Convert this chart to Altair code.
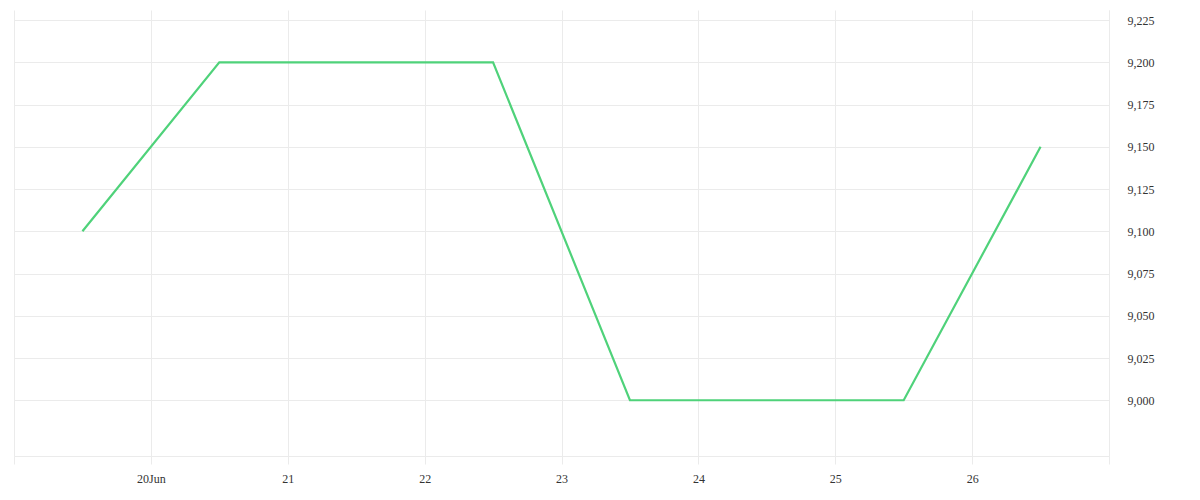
import altair as alt
import pandas as pd

dates = ["2023-06-19T12:00:00Z", "2023-06-20T12:00:00Z", "2023-06-21T12:00:00Z",
         "2023-06-22T12:00:00Z", "2023-06-23T12:00:00Z", "2023-06-24T12:00:00Z",
         "2023-06-25T12:00:00Z", "2023-06-26T12:00:00Z"]
values = [9100, 9200, 9200, 9200, 9000, 9000, 9000, 9150]
y_ticks = [9000, 9025, 9050, 9075, 9100, 9125, 9150, 9175, 9200, 9225]
x_tick_days = [19, 20, 21, 22, 23, 24, 25, 26, 27]

df = pd.DataFrame({"date": dates, "value": values})

grid = "#ebebeb"
font = "Liberation Serif"

x_vals = [alt.DateTime(year=2023, month=6, date=d, utc=True) for d in x_tick_days]

chart = alt.Chart(df).mark_line(color="#4fd27a", strokeWidth=2.2).encode(
    x=alt.X("date:T",
            scale=alt.Scale(type="utc",
                            domain=[alt.DateTime(year=2023, month=6, date=19, utc=True),
                                    alt.DateTime(year=2023, month=6, date=27, utc=True)]),
            axis=alt.Axis(values=x_vals, title=None, grid=True, gridColor=grid,
                          domainColor=grid, tickColor=grid, tickSize=8,
                          labelPadding=9, labelFont=font, labelFontSize=12,
                          labelColor="#333333",
                          labelExpr="utcdate(datum.value) == 20 ? '20Jun' : (utcdate(datum.value) == 19 || utcdate(datum.value) == 27 ? '' : utcFormat(datum.value, '%d'))")),
    y=alt.Y("value:Q",
            scale=alt.Scale(domain=[8967, 9231], nice=False, zero=False),
            axis=alt.Axis(orient="right", values=y_ticks, title=None,
                          labelExpr="format(datum.value, ',.0f')",
                          grid=True, gridColor=grid, domain=True, domainColor=grid,
                          ticks=False, labelPadding=18, labelFont=font,
                          labelFontSize=12, labelColor="#333333")),
).properties(
    width=1095, height=446,
    padding={"left": 5, "top": 2, "right": 5, "bottom": 5},
).configure_view(stroke=None)

chart.save("out.html", embed_options={"renderer": "svg", "actions": False})
